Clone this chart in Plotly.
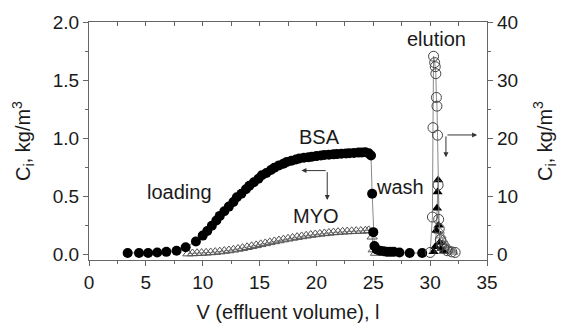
import plotly.graph_objects as go

# BSA loading / wash (left axis, filled circles)
bsa_x = [3.4, 4.4, 5.2, 6.0, 6.8, 7.7, 8.5, 9.4, 10.0, 10.4, 10.8, 11.2, 11.5, 11.9, 12.3, 12.7,
         13.0, 13.4, 13.8, 14.1, 14.5, 14.9, 15.2, 15.6, 16.0, 16.3, 16.7, 17.1, 17.4, 17.8,
         18.2, 18.5, 18.9, 19.3, 19.6, 20.0, 20.4, 20.7, 21.1, 21.5, 21.8, 22.2, 22.6, 22.9,
         23.3, 23.7, 24.0, 24.3, 24.6, 24.8, 24.9, 25.0, 25.1, 25.3, 25.6, 25.9, 26.2, 26.5,
         26.8, 27.3, 28.2, 29.3]
bsa_y = [0.01, 0.01, 0.01, 0.015, 0.02, 0.03, 0.06, 0.11, 0.16, 0.20, 0.245, 0.29, 0.33, 0.37,
         0.41, 0.45, 0.49, 0.52, 0.56, 0.59, 0.62, 0.65, 0.68, 0.70, 0.725, 0.745, 0.765, 0.78,
         0.795, 0.805, 0.815, 0.825, 0.83, 0.835, 0.84, 0.845, 0.85, 0.855, 0.857, 0.86, 0.862,
         0.865, 0.867, 0.87, 0.872, 0.875, 0.877, 0.878, 0.87, 0.85, 0.52, 0.19, 0.07, 0.04,
         0.03, 0.025, 0.02, 0.02, 0.02, 0.015, 0.01, 0.01]

# MYO loading / wash (left axis, open triangles)
myo_x = [8.7, 9.1, 9.5, 9.9, 10.3, 10.7, 11.1, 11.5, 11.9, 12.3, 12.7, 13.1, 13.5, 13.9, 14.3,
         14.7, 15.1, 15.5, 15.9, 16.3, 16.7, 17.1, 17.5, 17.9, 18.3, 18.7, 19.1, 19.5, 19.9,
         20.3, 20.7, 21.1, 21.5, 21.9, 22.3, 22.7, 23.1, 23.5, 23.9, 24.3, 24.6, 24.9, 25.0, 25.2]
myo_y = [0.005, 0.006, 0.008, 0.01, 0.012, 0.015, 0.018, 0.022, 0.027, 0.032, 0.038, 0.045,
         0.052, 0.06, 0.068, 0.076, 0.085, 0.093, 0.102, 0.11, 0.118, 0.126, 0.133, 0.14, 0.147,
         0.153, 0.159, 0.165, 0.17, 0.175, 0.179, 0.183, 0.187, 0.19, 0.193, 0.195, 0.197,
         0.199, 0.2, 0.202, 0.205, 0.15, 0.04, 0.01]

# Elution (right axis)
elu_c_x = [30.0, 30.2, 30.25, 30.3, 30.4, 30.45, 30.5, 30.55, 30.6, 30.65, 30.7, 30.75, 30.8,
           30.9, 31.0, 31.2, 31.5, 31.9, 32.2]
elu_c_y = [0.3, 6.4, 21.8, 34.1, 33.0, 32.3, 31.1, 27.0, 25.5, 20.5, 11.9, 6.0, 4.4, 2.5, 1.5,
           1.0, 0.6, 0.4, 0.3]
elu_t_x = [30.3, 30.45, 30.55, 30.6, 30.65, 30.7, 30.75, 30.85, 31.0, 31.2]
elu_t_y = [0.4, 1.3, 4.1, 7.9, 10.7, 12.8, 5.0, 2.0, 1.0, 0.5]
elu_g_x = [30.8, 30.95, 31.1, 31.25, 31.4, 31.55, 31.7, 31.85, 32.0]
elu_g_y = [4.0, 3.2, 2.5, 2.0, 1.5, 1.1, 0.8, 0.6, 0.4]

FONT = "Arial, Liberation Sans, sans-serif"
TXT = "#1a1a1a"
AX = "#666"
LINE = dict(color="#8a8a8a", width=1)

fig = go.Figure()
fig.add_trace(go.Scatter(x=myo_x, y=myo_y, mode="lines+markers", line=LINE,
                         marker=dict(symbol="triangle-up-open", size=9, color="#555",
                                     line=dict(width=1))))
fig.add_trace(go.Scatter(x=bsa_x, y=bsa_y, mode="lines+markers", line=LINE,
                         marker=dict(symbol="circle", size=10, color="black")))
fig.add_trace(go.Scatter(x=elu_g_x, y=elu_g_y, mode="lines+markers", line=LINE, yaxis="y2",
                         marker=dict(symbol="triangle-up-open", size=9, color="#777",
                                     line=dict(width=1))))
fig.add_trace(go.Scatter(x=elu_t_x, y=elu_t_y, mode="lines+markers", line=LINE, yaxis="y2",
                         marker=dict(symbol="triangle-up", size=9, color="black")))
fig.add_trace(go.Scatter(x=elu_c_x, y=elu_c_y, mode="lines+markers", line=LINE, yaxis="y2",
                         marker=dict(symbol="circle-open", size=10, color="#444",
                                     line=dict(width=1))))
fig.add_trace(go.Scatter(x=[None], y=[None], xaxis="x2", showlegend=False))

labels = [("BSA", 20.25, 1.01), ("loading", 7.95, 0.534), ("MYO", 19.94, 0.33),
          ("wash", 27.35, 0.575), ("elution", 30.6, 1.85)]
for t, x, y in labels:
    fig.add_annotation(text=t, x=x, y=y, xref="x", yref="y", showarrow=False,
                       font=dict(size=20, color=TXT, family=FONT))

arrows = [(20.95, 0.72, 18.68, 0.72), (20.95, 0.72, 20.95, 0.466),
          (31.39, 1.027, 34.13, 1.027), (31.39, 1.027, 31.39, 0.836)]
for ax, ay, x, y in arrows:
    fig.add_annotation(x=x, y=y, ax=ax, ay=ay, xref="x", yref="y", axref="x", ayref="y",
                       text="", showarrow=True, arrowhead=2, arrowsize=1, arrowwidth=1,
                       arrowcolor="#333", standoff=0, startstandoff=0)

axis_common = dict(showline=True, linecolor=AX, linewidth=1.2, ticks="outside",
                   ticklen=5, tickcolor=AX, showgrid=False, zeroline=False,
                   tickfont=dict(size=19, color=TXT, family=FONT))
title_font = dict(size=20, color=TXT, family=FONT)

fig.update_layout(
    width=564, height=332, margin=dict(l=89, r=76, t=15, b=68),
    paper_bgcolor="white", plot_bgcolor="white", showlegend=False,
    font=dict(family=FONT, size=19, color=TXT),
    xaxis=dict(range=[0, 35], dtick=5, tick0=0,
               minor=dict(dtick=2.5, ticks="outside", ticklen=3, tickcolor=AX),
               title=dict(text="V (effluent volume), l", standoff=13, font=title_font),
               **axis_common),
    xaxis2=dict(range=[0, 35], overlaying="x", side="top", showline=True, linecolor=AX,
                linewidth=1.2, ticks="inside", ticklen=4, tickcolor=AX, dtick=2.5,
                showticklabels=False, showgrid=False, zeroline=False),
    yaxis=dict(range=[-0.05, 2.0], dtick=0.5, tick0=0, tickformat=".1f",
               minor=dict(dtick=0.25, ticks="outside", ticklen=3, tickcolor=AX),
               title=dict(text="C<sub>i</sub>, kg/m<sup>3</sup>", standoff=16, font=title_font),
               **axis_common),
    yaxis2=dict(range=[-1.0, 40], dtick=10, tick0=0, overlaying="y", side="right",
                minor=dict(dtick=5, ticks="outside", ticklen=3, tickcolor=AX),
                title=dict(text="C<sub>i</sub>, kg/m<sup>3</sup>", standoff=20, font=title_font),
                **axis_common),
)

fig.write_html("out.html", config={"displayModeBar": False},
               post_script="document.body.style.margin='0';document.body.style.overflow='hidden';")
